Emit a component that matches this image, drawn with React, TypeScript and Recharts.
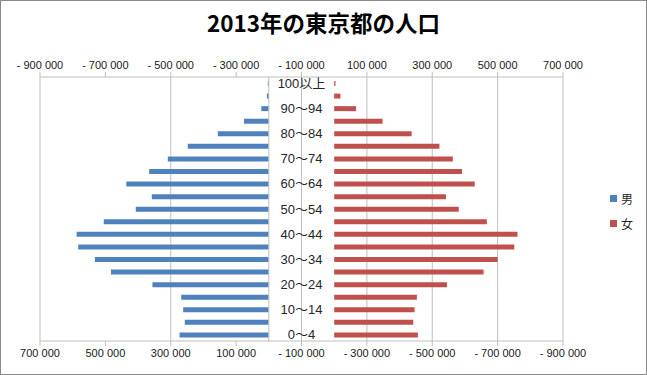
import {
    ComposedChart,
    Bar,
    XAxis,
    YAxis,
    CartesianGrid,
    Legend,
    ReferenceLine
} from "recharts";

const ageGroups = [
    "0〜4", "5〜9", "10〜14", "15〜19", "20〜24", "25〜29", "30〜34",
    "35〜39", "40〜44", "45〜49", "50〜54", "55〜59", "60〜64", "65〜69",
    "70〜74", "75〜79", "80〜84", "85〜89", "90〜94", "95〜99", "100以上"
];

const male = [
    273000, 257000, 262000, 268000, 356000, 483000, 532000,
    583000, 588000, 505000, 407000, 358000, 436000, 366000,
    309000, 248000, 156000, 76000, 23000, 6000, 3000
];

const female = [
    256000, 242000, 246000, 253000, 345000, 457000, 500000,
    551000, 561000, 467000, 381000, 342000, 430000, 391000,
    363000, 322000, 237000, 148000, 67000, 19000, 4000
];

const axisTicks = [-900000, -700000, -500000, -300000, -100000, 100000, 300000, 500000, 700000];
const axisDomain = [-900000, 700000];

const BLUE = "#4F81BD";
const RED = "#C0504D";
const GRID = "#bfbfbf";
const FONT = "'Liberation Sans', 'Noto Sans CJK JP', sans-serif";

// plot area in chart coords (chart sits inside a 1px frame)
const PLOT_LEFT = 39;
const PLOT_WIDTH = 523;

const formatTick = (v: number) => {
    const s = Math.abs(v).toString().replace(/\B(?=(\d{3})+(?!\d))/g, " ");
    return v < 0 ? `- ${s}` : s;
};

// category labels sit in the gap, on the -100 000 gridline
const labelX = PLOT_LEFT + ((-100000 - axisDomain[0]) / (axisDomain[1] - axisDomain[0])) * PLOT_WIDTH;

const renderAgeTick = (tickProps: any) => {
    const { y, payload } = tickProps;
    const i = ageGroups.indexOf(payload.value);
    if (i % 2 !== 0) return <g />;
    return (
        <text x={labelX} y={y} textAnchor="middle" dominantBaseline="central"
              fontSize={13} fill="#262626" fontFamily={FONT}>
            {payload.value}
        </text>
    );
};

const renderLegend = () => (
    <div style={{ paddingLeft: 47, fontFamily: FONT, fontSize: 12, color: "#262626" }}>
        {[{ name: "男", color: BLUE }, { name: "女", color: RED }].map(item => (
            <div key={item.name} style={{ display: "flex", alignItems: "center", height: 25 }}>
                <span style={{ width: 7, height: 7, background: item.color, marginRight: 4, display: "inline-block" }} />
                <span>{item.name}</span>
            </div>
        ))}
    </div>
);

export default function App() {
    const data = ageGroups.map((age, i) => ({ age, male: male[i], female: female[i] }));

    return (
        <div style={{
            position: "absolute", left: 0, top: 0, width: 647, height: 375,
            boxSizing: "border-box", border: "1px solid #8a8a8a", background: "#fff"
        }}>
            <div style={{
                position: "absolute", left: 0, top: 6, width: 645, textAlign: "center",
                fontFamily: "'Noto Sans CJK JP', sans-serif", fontWeight: 700, fontSize: 22.5,
                color: "#000", lineHeight: "30px"
            }}>
                2013年の東京都の人口
            </div>
            <ComposedChart
                width={645}
                height={373}
                data={data}
                layout="vertical"
                margin={{ top: 46, right: 9, bottom: 8, left: PLOT_LEFT - 1 }}
            >
                <CartesianGrid xAxisId="top" yAxisId="f" horizontal={false} stroke={GRID} />
                <XAxis
                    xAxisId="top"
                    orientation="top"
                    type="number"
                    domain={axisDomain}
                    ticks={axisTicks}
                    tickFormatter={formatTick}
                    height={30}
                    tickSize={5}
                    tickMargin={3}
                    axisLine={{ stroke: GRID }}
                    tickLine={{ stroke: GRID }}
                    tick={{ fontSize: 11, fill: "#1a1a1a", fontFamily: FONT }}
                    allowDataOverflow
                />
                <XAxis
                    xAxisId="bottom"
                    orientation="bottom"
                    type="number"
                    reversed
                    domain={axisDomain}
                    ticks={axisTicks}
                    tickFormatter={formatTick}
                    height={25}
                    tickSize={5}
                    tickMargin={3}
                    axisLine={{ stroke: GRID }}
                    tickLine={{ stroke: GRID }}
                    tick={{ fontSize: 11, fill: "#1a1a1a", fontFamily: FONT }}
                    allowDataOverflow
                />
                <YAxis yAxisId="m" type="category" dataKey="age" reversed width={1}
                       axisLine={false} tickLine={false} tick={renderAgeTick} interval={0} />
                <YAxis yAxisId="f" type="category" dataKey="age" reversed hide />
                <ReferenceLine xAxisId="bottom" yAxisId="m" x={0} stroke={GRID} />
                <Legend
                    layout="vertical"
                    align="right"
                    verticalAlign="top"
                    width={74}
                    wrapperStyle={{ top: 185 }}
                    content={renderLegend}
                />
                <Bar dataKey="male" name="男" xAxisId="bottom" yAxisId="m" fill={BLUE}
                     barSize={5} isAnimationActive={false} />
                <Bar dataKey="female" name="女" xAxisId="top" yAxisId="f" fill={RED}
                     barSize={5} isAnimationActive={false} />
            </ComposedChart>
        </div>
    );
}
